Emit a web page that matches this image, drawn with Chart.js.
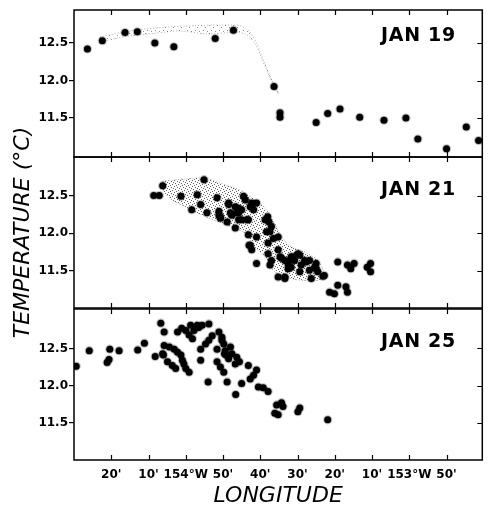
<!DOCTYPE html>
<html><head><meta charset="utf-8">
<script src="https://cdn.jsdelivr.net/npm/chart.js@4"></script>
<style>
html,body{margin:0;padding:0;background:#fff;}
#wrap{position:relative;width:488px;height:506px;background:#fff;}
#wrap canvas{position:absolute;left:0;top:0;}
</style></head><body>
<div id="wrap">
<canvas id="c1" width="488" height="506"></canvas>
<canvas id="c2" width="488" height="506"></canvas>
<canvas id="c3" width="488" height="506"></canvas>
</div>
<script>
// Longitude is stored as arc-minutes east of 155°W (e.g. 40 = 154°20'W, 60 = 154°W, 120 = 153°W)
const lonTickValues = [40, 50, 60, 70, 80, 90, 100, 110, 120, 130];
const lonTickLabels = ["20'", "10'", "154°W", "50'", "40'", "30'", "20'", "10'", "153°W", "50'"];
const tempTickValues = [11.5, 12.0, 12.5];
const panelDates = ['JAN 19', 'JAN 21', 'JAN 25'];

// JAN 19
const jan19Lon  = [33.6, 37.6, 43.7, 47.0, 51.7, 56.8, 67.9, 72.8, 83.7, 85.3, 85.3, 95.0, 98.1, 101.4, 106.7, 113.2, 119.1, 122.3, 130.0, 135.3, 138.6];
const jan19Temp = [12.42, 12.53, 12.64, 12.65, 12.50, 12.45, 12.56, 12.67, 11.92, 11.57, 11.51, 11.44, 11.56, 11.62, 11.51, 11.47, 11.50, 11.22, 11.09, 11.38, 11.20];
const env19Lon  = [37, 45, 54, 62, 70, 74.5, 77, 79, 81, 83, 85, 84.5, 82.5, 80.5, 78.5, 76, 72, 66, 58, 50, 43, 37, 37];
const env19Temp = [12.58, 12.66, 12.71, 12.73, 12.74, 12.73, 12.66, 12.50, 12.25, 12.02, 11.82, 11.84, 12.05, 12.28, 12.50, 12.62, 12.64, 12.62, 12.66, 12.62, 12.58, 12.52, 12.58];

// JAN 21
const jan21Lon  = [51.4, 52.9, 53.8, 58.7, 61.6, 63.1, 64.0, 64.9, 65.7, 68.4, 68.9, 69.3, 71.1, 71.5, 72.0, 73.3, 73.7, 74.2, 75.0, 75.5,
                   76.4, 77.3, 77.7, 79.0, 78.2, 76.8, 77.0, 77.7, 79.0, 79.0, 82.0, 82.3, 82.6, 83.0, 83.5, 82.1, 82.1, 82.6, 83.0, 84.8,
                   84.8, 85.3, 84.8, 86.6, 86.6, 87.5, 88.3, 88.3, 89.2, 90.1, 90.6, 91.0, 91.9, 93.2, 93.7, 95.0, 95.0, 96.8, 98.6, 99.9,
                   100.8, 100.8, 103.0, 103.4, 103.4, 104.3, 105.2, 108.7, 109.6, 109.6,
                   71.5, 73.3, 75.0, 76.0, 77.7, 76.8, 74.2, 72.4, 69.3, 68.9, 74.2, 81.3, 81.7, 85.7, 87.9, 89.2, 90.6, 87.5, 92.3, 94.6,
                   93.2, 95.4, 97.2, 86.6, 77.3];
const jan21Temp = [12.50, 12.50, 12.63, 12.49, 12.31, 12.51, 12.38, 12.71, 12.27, 12.47, 12.24, 12.20, 12.15, 12.38, 12.27, 12.07, 12.27, 12.33, 12.18, 12.49,
                   12.18, 12.35, 12.40, 12.40, 12.31, 11.98, 11.84, 11.78, 11.95, 11.60, 12.22, 12.15, 12.02, 12.09, 11.93, 11.87, 11.73, 11.58, 11.64, 11.95,
                   11.78, 11.69, 11.42, 11.42, 11.64, 11.58, 11.69, 11.55, 11.64, 11.73, 11.49, 11.58, 11.64, 11.64, 11.40, 11.60, 11.53, 11.43, 11.22, 11.20,
                   11.31, 11.62, 11.29, 11.22, 11.58, 11.53, 11.60, 11.55, 11.60, 11.49,
                   12.40, 12.35, 12.31, 12.44, 12.35, 12.18, 12.18, 12.24, 12.22, 12.29, 12.27, 12.18, 12.02, 11.67, 11.64, 11.69, 11.71, 11.53, 11.62, 11.55,
                   11.51, 11.49, 11.44, 11.40, 11.84];
const env21Lon  = [53.8, 60.0, 64.9, 68.9, 74.2, 78.6, 81.3, 83.9, 85.7, 88.3, 92.8, 95.4, 97.2, 96.8, 93.7, 88.3, 83.9, 81.3, 78.6, 76.0, 72.4, 68.9, 63.5, 60.0, 56.4, 53.8, 53.8];
const env21Temp = [12.69, 12.72, 12.73, 12.67, 12.58, 12.44, 12.33, 12.13, 11.95, 11.82, 11.73, 11.64, 11.47, 11.40, 11.37, 11.40, 11.49, 11.69, 11.82, 12.00, 12.08, 12.15, 12.26, 12.35, 12.44, 12.58, 12.69];

// JAN 25
const jan25Lon  = [30.6, 34.1, 39.6, 38.9, 39.4, 42.1, 47.1, 48.9, 51.8, 53.3, 54.2, 53.8, 54.2, 55.6, 56.9, 57.8, 54.0, 55.1, 56.4, 57.3,
                   58.7, 59.1, 59.5, 60.0, 60.9, 58.9, 60.0, 60.9, 61.8, 57.8, 63.1, 64.4, 66.2, 62.2, 63.5, 64.0, 64.0, 65.3, 66.2, 67.1,
                   66.0, 68.9, 69.7, 68.4, 70.2, 70.6, 70.8, 68.4, 69.3, 70.2, 71.1, 71.5, 73.7, 73.3, 75.0, 76.8, 78.2, 79.0, 77.3, 79.5,
                   73.4, 70.4, 74.4, 80.8, 82.1, 84.4, 85.7, 86.1, 83.9, 84.8, 90.1, 90.6, 98.1, 61.3, 72.0, 72.4, 69.7];
const jan25Temp = [12.26, 12.47, 12.49, 12.31, 12.35, 12.47, 12.48, 12.57, 12.39, 12.84, 12.72, 12.43, 12.54, 12.52, 12.49, 12.45, 12.41, 12.32, 12.27, 12.23,
                   12.41, 12.34, 12.29, 12.23, 12.18, 12.77, 12.74, 12.68, 12.63, 12.72, 12.81, 12.81, 12.83, 12.74, 12.78, 12.49, 12.34, 12.56, 12.61, 12.67,
                   12.05, 12.72, 12.65, 12.49, 12.56, 12.47, 12.41, 12.32, 12.25, 12.18, 12.05, 12.36, 12.38, 12.29, 12.03, 12.27, 12.14, 12.21, 12.09, 11.98,
                   11.88, 12.43, 12.32, 11.97, 11.92, 11.74, 11.77, 11.72, 11.63, 11.61, 11.65, 11.70, 11.54, 12.81, 12.52, 12.43, 12.61];

const zip = (xs, ys) => xs.map((x, i) => ({x: x, y: ys[i]}));
Chart.defaults.font.family = '"DejaVu Sans", sans-serif';
Chart.defaults.color = '#000';

function stipple(canvasId, size, dots, color) {
  const c = document.createElement('canvas');
  c.width = size; c.height = size;
  const g = c.getContext('2d');
  g.fillStyle = color;
  dots.forEach(d => g.fillRect(d[0], d[1], 1, 1));
  return document.getElementById(canvasId).getContext('2d').createPattern(c, 'repeat');
}

const framePlugin = {
  id: 'panelFrame',
  afterDatasetsDraw(chart, args, opts) {
    const ctx = chart.ctx, a = chart.chartArea, xs = chart.scales.x, ys = chart.scales.y;
    ctx.save();
    ctx.strokeStyle = '#000';
    ctx.lineWidth = 1.5;
    ctx.strokeRect(a.left, a.top, a.right - a.left, a.bottom - a.top);
    ctx.lineWidth = 1.2;
    ctx.beginPath();
    lonTickValues.forEach(v => {
      const x = Math.round(xs.getPixelForValue(v)) + 0.5;
      ctx.moveTo(x, a.top); ctx.lineTo(x, a.top + 5);
      ctx.moveTo(x, a.bottom); ctx.lineTo(x, a.bottom - 5);
    });
    tempTickValues.forEach(t => {
      const y = Math.round(ys.getPixelForValue(t)) + 0.5;
      ctx.moveTo(a.right, y); ctx.lineTo(a.right - 5, y);
    });
    ctx.stroke();
    ctx.fillStyle = '#000';
    ctx.font = 'bold 19px "DejaVu Sans"';
    ctx.textAlign = 'left';
    ctx.textBaseline = 'middle';
    try { ctx.letterSpacing = '0.7px'; } catch (e) {}
    ctx.fillText(opts.label, 381, a.top + opts.dy);
    ctx.restore();
  }
};

function makeChart(id, cfg) {
  const pointsDs = {
    type: 'scatter',
    data: zip(cfg.lon, cfg.temp),
    pointRadius: 3.5,
    pointHoverRadius: 3.5,
    pointBackgroundColor: '#000',
    pointBorderColor: 'rgba(0,0,0,0.25)',
    pointBorderWidth: 2.2,
    order: 0
  };
  const datasets = [pointsDs];
  if (cfg.envLon) {
    datasets.push({
      type: 'line',
      data: zip(cfg.envLon, cfg.envTemp),
      fill: 'shape',
      backgroundColor: cfg.pattern,
      borderColor: cfg.edge,
      borderWidth: 0.9,
      borderDash: [1, 2],
      pointRadius: 0,
      tension: 0.3,
      order: 1
    });
  }
  return new Chart(document.getElementById(id), {
    type: 'scatter',
    data: {datasets: datasets},
    plugins: [framePlugin],
    options: {
      responsive: false,
      devicePixelRatio: 1,
      animation: false,
      events: [],
      layout: {padding: {left: 0, right: 2, top: cfg.top, bottom: cfg.bottom}},
      plugins: {
        legend: {display: false},
        tooltip: {enabled: false},
        panelFrame: {label: cfg.label, dy: cfg.dy}
      },
      scales: {
        x: {
          type: 'linear',
          min: 30, max: 139.6,
          display: cfg.showX,
          afterBuildTicks: s => { s.ticks = lonTickValues.map(v => ({value: v})); },
          afterFit: s => { if (cfg.showX) s.height = 46; },
          grid: {display: false, drawTicks: false},
          border: {display: false},
          ticks: {
            padding: 8,
            font: {size: 12, weight: 'bold'},
            color: '#000',
            maxRotation: 0,
            autoSkip: false,
            callback: (v, i) => lonTickLabels[i]
          },
          title: {
            display: cfg.showX,
            text: 'LONGITUDE',
            color: '#000',
            font: {size: 22, style: 'italic', lineHeight: 0.8},
            padding: {top: 0, bottom: 1.2}
          }
        },
        y: {
          type: 'linear',
          min: cfg.ymin, max: cfg.ymax,
          afterBuildTicks: s => { s.ticks = tempTickValues.map(v => ({value: v})); },
          afterFit: s => { s.width = 74; },
          grid: {drawOnChartArea: false, drawTicks: true, tickLength: 5, color: '#000', lineWidth: 1.2},
          border: {display: false},
          ticks: {
            padding: 1,
            font: {size: 12, weight: 'bold'},
            color: '#000',
            callback: v => Number(v).toFixed(1)
          },
          title: {
            display: cfg.showYTitle,
            text: 'TEMPERATURE (°C)',
            color: '#000',
            font: {size: 22, style: 'italic', lineHeight: 1.2},
            padding: {top: 10, bottom: 0}
          }
        }
      }
    }
  });
}

makeChart('c1', {lon: jan19Lon, temp: jan19Temp, envLon: env19Lon, envTemp: env19Temp,
  pattern: stipple('c1', 8, [[1,1],[5,3],[3,6],[7,7]], 'rgba(70,70,70,0.6)'), edge: 'rgba(0,0,0,0.35)',
  top: 10, bottom: 349, ymin: 10.98, ymax: 12.94, label: panelDates[0], dy: 26, showX: false, showYTitle: false});
makeChart('c2', {lon: jan21Lon, temp: jan21Temp, envLon: env21Lon, envTemp: env21Temp,
  pattern: stipple('c2', 6, [[0,0],[3,1],[1,3],[4,4],[5,2],[2,5]], 'rgba(30,30,30,0.7)'), edge: 'rgba(0,0,0,0.4)',
  top: 157, bottom: 198, ymin: 11.01, ymax: 13.01, label: panelDates[1], dy: 33, showX: false, showYTitle: true});
makeChart('c3', {lon: jan25Lon, temp: jan25Temp,
  top: 309, bottom: 0, ymin: 11.0, ymax: 13.03, label: panelDates[2], dy: 33, showX: true, showYTitle: false});
</script>
</body></html>
